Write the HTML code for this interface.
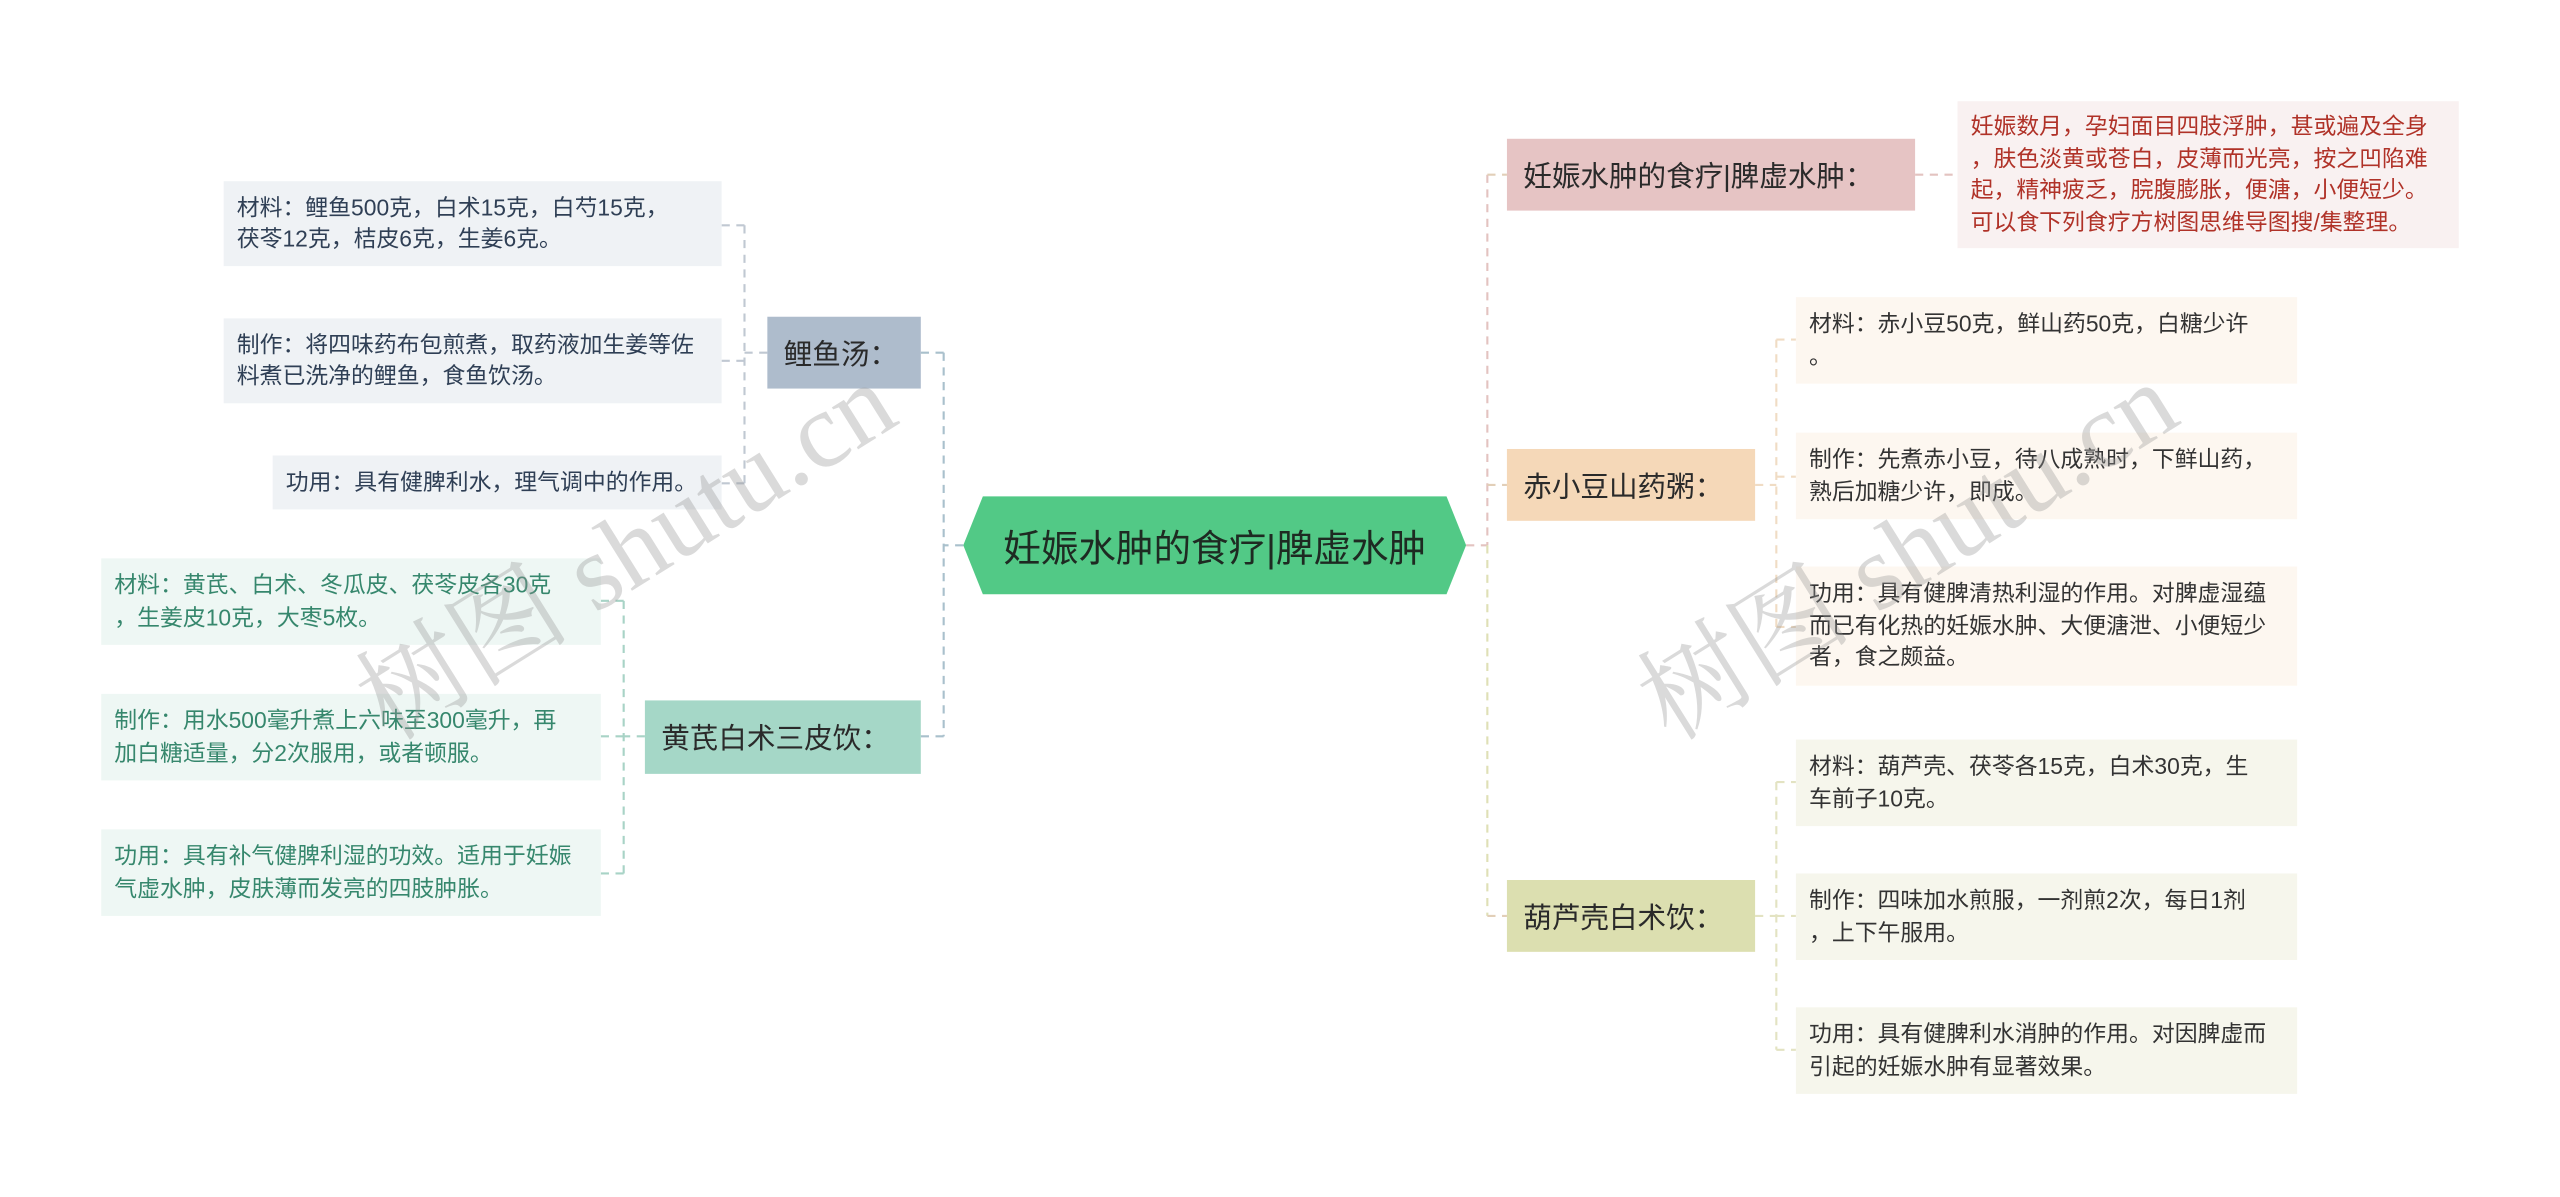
<!DOCTYPE html>
<html><head><meta charset="utf-8">
<style>
html,body{margin:0;padding:0;background:#fff;width:2560px;height:1196px;overflow:hidden}
#w{position:absolute;left:0;top:0;width:1568px;height:733px;transform:scale(1.63265);transform-origin:0 0;font-family:"Liberation Sans","Noto Sans CJK SC",sans-serif}
.b{position:absolute;box-sizing:border-box;white-space:nowrap}
.leaf{font-size:14px;line-height:19.5px;padding:0 0 0 8px;display:flex;flex-direction:column;justify-content:center}
.node{font-size:17.5px;display:flex;align-items:center;justify-content:flex-start;padding-left:10px;color:#2a2a2a}
svg{position:absolute;left:0;top:0}
.wm{position:absolute;font-family:"Liberation Serif","Noto Serif CJK SC",serif;font-size:66px;color:rgba(150,150,150,0.35);transform:rotate(-32deg);white-space:nowrap}
</style></head><body><div id="w">
<svg width="1568" height="733" fill="none" stroke-width="1.3" stroke-dasharray="5,4">
<path d="M590 334 H578 M578 216 V451 M578 216 H564 M578 451 H564" stroke="#a9c0cc"/>
<path d="M470 216 H456 M456 138 V296 M456 138 H442 M456 221 H442 M456 296 H442" stroke="#c0c8d2"/>
<path d="M395 451 H382 M382 368 V535 M382 368 H368 M382 451 H368 M382 535 H368" stroke="#a8d3c6"/>
<path d="M898 334 H911 M911 107 V334" stroke="#e3c3c0"/>
<path d="M911 334 V561" stroke="#dfe0b6"/>
<path d="M911 107 H923 M911 297 H923 M911 561 H923" stroke="#e2cfb8"/>
<path d="M1173 107 H1199" stroke="#e3c3c0"/>
<path d="M1075 297 H1088 M1088 208 V384 M1088 208 H1100 M1088 292 H1100 M1088 384 H1100" stroke="#f0dcc4"/>
<path d="M1075 561 H1088 M1088 479 V643 M1088 479 H1100 M1088 561 H1100 M1088 643 H1100" stroke="#e3e3c2"/>
</svg>

<svg width="1568" height="733"><polygon points="590,334 602,304 886,304 898,334 886,364 602,364" fill="#52c986"/></svg>
<div class="b node" style="left:590px;top:304px;width:308px;height:60px;font-size:23px;color:#1e2a22;justify-content:center;padding-left:0">妊娠水肿的食疗|脾虚水肿</div>

<div class="b node" style="left:470px;top:194px;width:94px;height:44px;background:#aebccc">鲤鱼汤：</div>
<div class="b node" style="left:395px;top:429px;width:169px;height:45px;background:#a5d7c7">黄芪白术三皮饮：</div>

<div class="b leaf" style="left:137px;top:111px;width:305px;height:52px;background:#eff2f5;color:#2f3f55">材料：鲤鱼500克，白术15克，白芍15克，<br>茯苓12克，桔皮6克，生姜6克。</div>
<div class="b leaf" style="left:137px;top:195px;width:305px;height:52px;background:#eff2f5;color:#2f3f55">制作：将四味药布包煎煮，取药液加生姜等佐<br>料煮已洗净的鲤鱼，食鱼饮汤。</div>
<div class="b leaf" style="left:167px;top:279px;width:275px;height:33px;background:#eff2f5;color:#2f3f55">功用：具有健脾利水，理气调中的作用。</div>

<div class="b leaf" style="left:62px;top:342px;width:306px;height:53px;background:#eef7f4;color:#36876d">材料：黄芪、白术、冬瓜皮、茯苓皮各30克<br>，生姜皮10克，大枣5枚。</div>
<div class="b leaf" style="left:62px;top:425px;width:306px;height:53px;background:#eef7f4;color:#36876d">制作：用水500毫升煮上六味至300毫升，再<br>加白糖适量，分2次服用，或者顿服。</div>
<div class="b leaf" style="left:62px;top:508px;width:306px;height:53px;background:#eef7f4;color:#36876d">功用：具有补气健脾利湿的功效。适用于妊娠<br>气虚水肿，皮肤薄而发亮的四肢肿胀。</div>

<div class="b node" style="left:923px;top:85px;width:250px;height:44px;background:#e6c4c4">妊娠水肿的食疗|脾虚水肿：</div>
<div class="b leaf" style="left:1199px;top:62px;width:307px;height:90px;background:#f9f1f1;color:#b03228">妊娠数月，孕妇面目四肢浮肿，甚或遍及全身<br>，肤色淡黄或苍白，皮薄而光亮，按之凹陷难<br>起，精神疲乏，脘腹膨胀，便溏，小便短少。<br>可以食下列食疗方树图思维导图搜/集整理。</div>

<div class="b node" style="left:923px;top:275px;width:152px;height:44px;background:#f5d8b8">赤小豆山药粥：</div>
<div class="b leaf" style="left:1100px;top:182px;width:307px;height:53px;background:#fdf7f0;color:#333">材料：赤小豆50克，鲜山药50克，白糖少许<br>。</div>
<div class="b leaf" style="left:1100px;top:265px;width:307px;height:53px;background:#fdf7f0;color:#333">制作：先煮赤小豆，待八成熟时，下鲜山药，<br>熟后加糖少许，即成。</div>
<div class="b leaf" style="left:1100px;top:347px;width:307px;height:73px;background:#fdf7f0;color:#333">功用：具有健脾清热利湿的作用。对脾虚湿蕴<br>而已有化热的妊娠水肿、大便溏泄、小便短少<br>者，食之颇益。</div>

<div class="b node" style="left:923px;top:539px;width:152px;height:44px;background:#dcdfb0">葫芦壳白术饮：</div>
<div class="b leaf" style="left:1100px;top:453px;width:307px;height:53px;background:#f6f6ec;color:#333">材料：葫芦壳、茯苓各15克，白术30克，生<br>车前子10克。</div>
<div class="b leaf" style="left:1100px;top:535px;width:307px;height:53px;background:#f6f6ec;color:#333">制作：四味加水煎服，一剂煎2次，每日1剂<br>，上下午服用。</div>
<div class="b leaf" style="left:1100px;top:617px;width:307px;height:53px;background:#f6f6ec;color:#333">功用：具有健脾利水消肿的作用。对因脾虚而<br>引起的妊娠水肿有显著效果。</div>

<div class="wm" style="left:195px;top:285px">树图 shutu.cn</div>
<div class="wm" style="left:980px;top:285px">树图 shutu.cn</div>
</div></body></html>
